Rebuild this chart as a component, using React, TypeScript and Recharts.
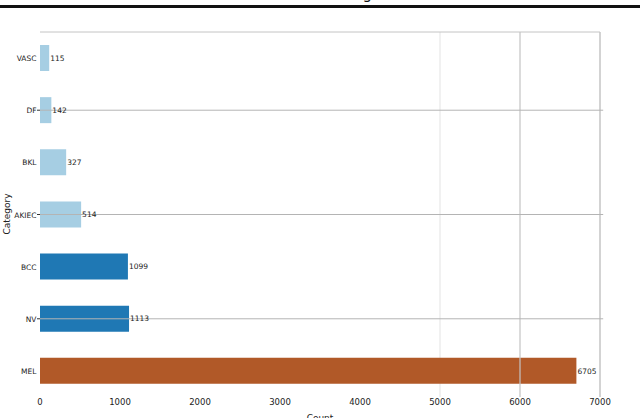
import React from "react";
import {
  Bar,
  BarChart,
  CartesianGrid,
  Cell,
  LabelList,
  ReferenceLine,
  XAxis,
  YAxis,
} from "recharts";

const categories = ["VASC", "DF", "BKL", "AKIEC", "BCC", "NV", "MEL"];
const counts = [115, 142, 327, 514, 1099, 1113, 6705];
const barColors = ["#a6cee3", "#a6cee3", "#a6cee3", "#a6cee3", "#1f78b4", "#1f78b4", "#b15928"];
const countTicks = [0, 1000, 2000, 3000, 4000, 5000, 6000, 7000];
const markedCategories = ["DF", "AKIEC", "NV"];
const titleText = "Training";

const data = categories.map((name, i) => ({ name, count: counts[i] }));

const font = "'DejaVu Sans', sans-serif";

function CategoryTick(props: any) {
  const { x, y, payload } = props;
  const marked = markedCategories.includes(payload.value);
  return (
    <g>
      {marked && <line x1={x - 3} x2={x} y1={y} y2={y} stroke="#333" strokeWidth={1} />}
      <text
        x={x - 3.5}
        y={y}
        dy={3}
        textAnchor="end"
        fontSize={7.5}
        fill="#222"
        fontFamily={font}
      >
        {payload.value}
      </text>
    </g>
  );
}

export default function App() {
  return (
    <div
      style={{
        position: "absolute",
        left: 0,
        top: 0,
        width: 640,
        height: 418,
        background: "#fff",
        overflow: "hidden",
      }}
    >
      <svg
        width={640}
        height={418}
        style={{ position: "absolute", left: 0, top: 0, pointerEvents: "none", zIndex: 2 }}
      >
        <text x={372} y={-1} textAnchor="end" fontSize={15} fontFamily={font} fill="#111">
          {titleText}
        </text>
        <rect x={0} y={5} width={640} height={3} fill="#111" />
        <text
          x={7}
          y={214}
          transform="rotate(-90 7 214)"
          textAnchor="middle"
          dominantBaseline="central"
          fontSize={9}
          fontFamily={font}
          fill="#222"
        >
          Category
        </text>
      </svg>
      <BarChart
        width={640}
        height={418}
        data={data}
        layout="vertical"
        margin={{ top: 32, right: 40, bottom: 0, left: 0 }}
        barSize={26}
      >
        <CartesianGrid
          horizontal={false}
          verticalValues={[5000]}
          stroke="#ececec"
          strokeWidth={1.5}
        />
        <XAxis
          type="number"
          domain={[0, 7000]}
          ticks={countTicks}
          height={21}
          axisLine={false}
          tickLine={false}
          tickSize={2}
          tickMargin={0}
          tick={{ fontSize: 8.5, fill: "#222", fontFamily: font }}
          label={{
            value: "Count",
            position: "insideBottom",
            offset: -3,
            fontSize: 9,
            fill: "#222",
            fontFamily: font,
          }}
        />
        <YAxis
          type="category"
          dataKey="name"
          width={40}
          axisLine={false}
          tickLine={false}
          tickSize={0}
          tickMargin={0}
          tick={<CategoryTick />}
          interval={0}
        />
        <Bar dataKey="count" isAnimationActive={false}>
          {data.map((d, i) => (
            <Cell key={d.name} fill={barColors[i]} />
          ))}
          <LabelList
            dataKey="count"
            position="right"
            offset={1}
            fontSize={7.5}
            fill="#222"
            fontFamily={font}
          />
        </Bar>
        <ReferenceLine x={6000} stroke="#c4c4c4" strokeWidth={1.5} strokeOpacity={0.8} />
        <ReferenceLine x={7000} stroke="#c4c4c4" strokeWidth={1.5} />
        {markedCategories.map((c) => (
          <ReferenceLine
            key={c}
            segment={[
              { x: 0, y: c },
              { x: 7040, y: c },
            ]}
            ifOverflow="visible"
            stroke="#b4b4b4"
            strokeWidth={1}
          />
        ))}
        <ReferenceLine y="VASC" position="start" stroke="#c4c4c4" strokeWidth={1} />
      </BarChart>
    </div>
  );
}
